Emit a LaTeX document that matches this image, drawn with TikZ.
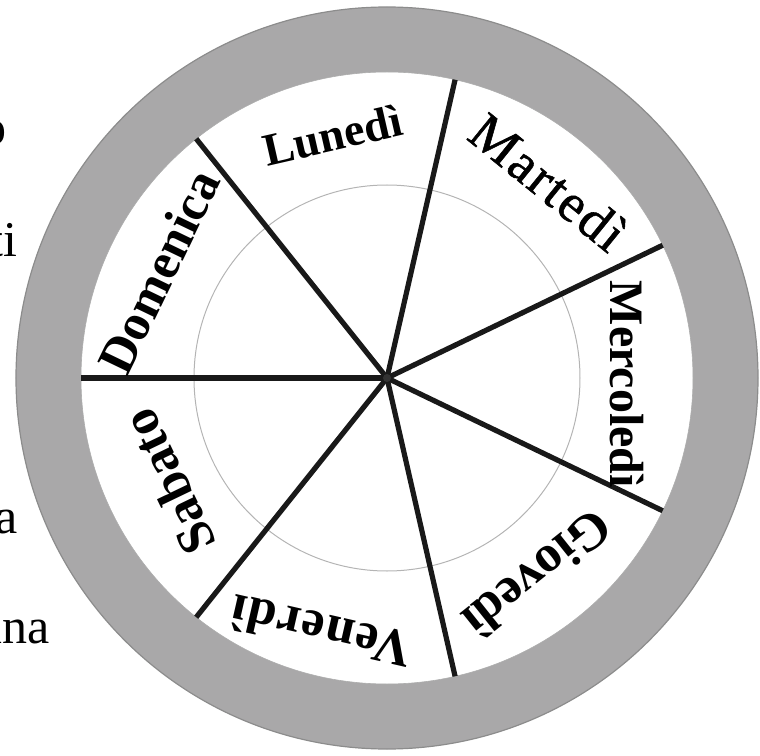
\documentclass[tikz,border=0pt]{standalone}
\usepackage{fontspec}
\setmainfont{Liberation Serif}
\definecolor{ringgray}{HTML}{A9A8A9}
\definecolor{ringedge}{HTML}{8C8C8C}
\definecolor{thingray}{HTML}{B4B4B4}
\tikzset{
  day/.style={inner sep=0pt, font=\bfseries\fontsize{25}{25}\selectfont},
  sidetext/.style={inner sep=0pt, anchor=base east, font=\fontsize{25}{25}\selectfont},
  spoke/.style={line width=2.6pt, black!90},
}
\begin{document}
\begin{tikzpicture}[x=0.5pt,y=0.5pt]
\useasboundingbox (-387,378) rectangle (373,-377);
% gray ring
\fill[ringgray, even odd rule] (0,0) circle (371) (0,0) circle (306);
\draw[ringedge, line width=0.6pt] (0,0) circle (371);
\draw[ringedge!70, line width=0.3pt] (0,0) circle (306);
% thin inner circle
\draw[thingray, line width=0.5pt] (0,0) circle (193);
% spokes
\coordinate (c) at (0,0);
\foreach \i in {0,...,6} {
  \coordinate (s\i) at ({180-\i*360/7}:306);
  \draw[spoke] (c) -- (s\i);
}
\node[circle, fill=black!80, inner sep=0pt, minimum size=4pt] (dot) at (c) {};
% day labels
\node[day, rotate=12.9, font=\bfseries\fontsize{23}{23}\selectfont] (lun) at (102.6:249) {Lunedì};
\node[day, rotate=-39, font=\fontsize{27}{27}\selectfont\addfontfeature{LetterSpace=4,FakeBold=1}] (mar) at (50.5:254) {Martedì};
\node[day, rotate=-90, font=\bfseries\fontsize{24}{24}\selectfont] (mer) at (-1.5:240) {Mercoledì};
\node[day, rotate=-141.4, font=\bfseries\fontsize{26}{26}\selectfont] (gio) at (-52.5:248) {Giovedì};
\node[day, rotate=-192.9, font=\bfseries\fontsize{26}{26}\selectfont\addfontfeature{LetterSpace=3}] (ven) at (-104.5:262) {Venerdì};
\node[day, rotate=-244.3, font=\bfseries\fontsize{26}{26}\selectfont] (sab) at (-154.5:242) {Sabato};
\node[day, rotate=64.3, font=\bfseries\fontsize{25.5}{25.5}\selectfont] (dom) at (155:252) {Domenica};
% cropped page text at left
\node[sidetext] (t1) at (-380,233) {o};
\node[sidetext] (t2) at (-369,121) {ti};
\node[sidetext] (t3) at (-369,-155) {a};
\node[sidetext] (t4) at (-337,-265) {una};
\end{tikzpicture}
\end{document}
